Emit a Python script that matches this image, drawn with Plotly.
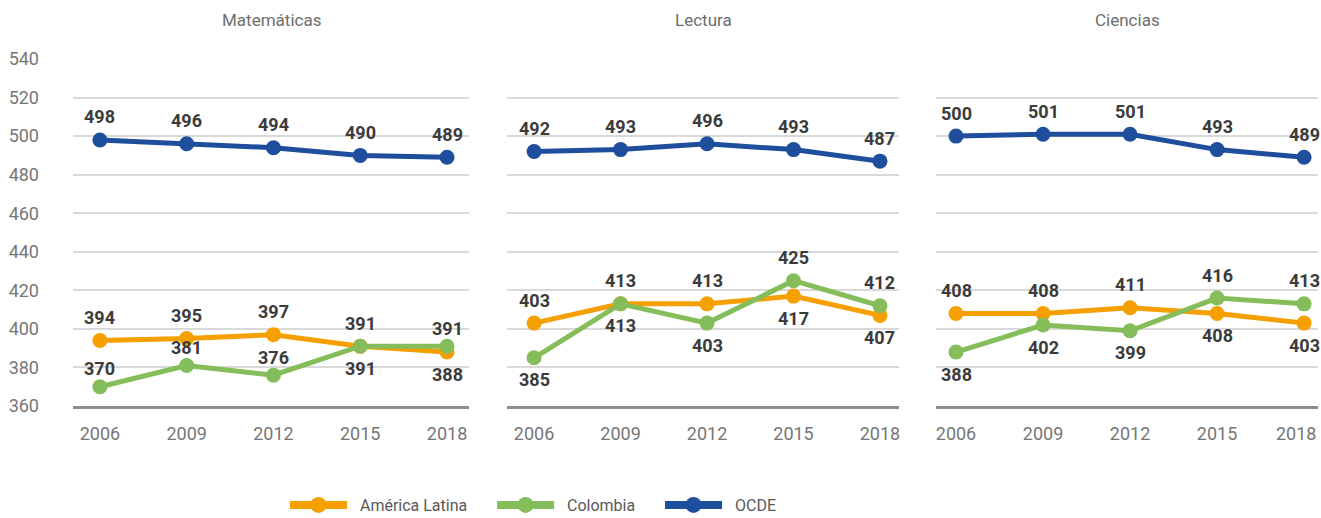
import plotly.graph_objects as go

# PISA average scores by subject and year
years = [2006, 2009, 2012, 2015, 2018]
subjects = ["Matemáticas", "Lectura", "Ciencias"]

mat_latam = [394, 395, 397, 391, 388]
mat_colombia = [370, 381, 376, 391, 391]
mat_ocde = [498, 496, 494, 490, 489]

lec_latam = [403, 413, 413, 417, 407]
lec_colombia = [385, 413, 403, 425, 412]
lec_ocde = [492, 493, 496, 493, 487]

cie_latam = [408, 408, 411, 408, 403]
cie_colombia = [388, 402, 399, 416, 413]
cie_ocde = [500, 501, 501, 493, 489]

series_names = ["América Latina", "Colombia", "OCDE"]
y_ticks = [360, 380, 400, 420, 440, 460, 480, 500, 520, 540]

# label side per point: 1 above the marker, -1 below
side_latam = [[1, 1, 1, 1, -1], [1, 1, 1, -1, -1], [1, 1, 1, -1, -1]]
side_colombia = [[1, 1, 1, -1, 1], [-1, -1, -1, 1, 1], [-1, -1, -1, 1, 1]]
side_ocde = [[1] * 5, [1] * 5, [1] * 5]
# vertical gap (px) between marker and its label, per panel and series
label_gap = [[23, 18, 23], [23, 23, 23], [23, 23, 23]]

colors = {"América Latina": "#F5A000", "Colombia": "#84BD5A", "OCDE": "#1F4E9C"}

panels = [
    (mat_latam, mat_colombia, mat_ocde),
    (lec_latam, lec_colombia, lec_ocde),
    (cie_latam, cie_colombia, cie_ocde),
]

W, H = 1321, 518
x_domains = [(73, 469), (507, 899), (936, 1318)]
x_ranges = [(2005.07, 2018.76), (2005.06, 2018.66), (2005.31, 2018.48)]
y_top_px, y_bot_px = 59, 406

NUM_FONT = "Roboto, DejaVu Sans, sans-serif"
TICK_FONT = dict(family=NUM_FONT, size=18, color="#767676")
NBSP = "\u00a0"

fig = go.Figure()
annotations = []

for i, (latam, col, ocde) in enumerate(panels):
    xa = "x" if i == 0 else f"x{i + 1}"
    ya = "y" if i == 0 else f"y{i + 1}"
    sides = [side_latam[i], side_colombia[i], side_ocde[i]]
    for k, (name, vals, side) in enumerate(zip(series_names, (latam, col, ocde), sides)):
        fig.add_trace(go.Scatter(
            x=years, y=vals, mode="lines+markers", name=name,
            line=dict(color=colors[name], width=5),
            marker=dict(color=colors[name], size=15),
            xaxis=xa, yaxis=ya, showlegend=False, legendgroup=name,
            hoverinfo="skip",
        ))
        for xv, yv, s in zip(years, vals, side):
            gap = label_gap[i][k] if s > 0 else 22
            annotations.append(dict(
                x=xv, y=yv, xref=xa, yref=ya, text=f"<b>{yv}</b>",
                showarrow=False, yshift=gap * s,
                font=dict(family=NUM_FONT, size=18, color="#3B3B3B"),
            ))
    annotations.append(dict(
        x=0.5, y=1 - 20 / H, xref=f"{xa} domain", yref="paper", text=subjects[i],
        showarrow=False, yanchor="middle",
        font=dict(family=NUM_FONT, size=17, color="#6E6E6E"),
    ))

# the last year label of the right panel is nudged left to stay on the page
annotations.append(dict(
    x=years[-1], y=0, xref="x3", yref="y3 domain", text=str(years[-1]),
    showarrow=False, yanchor="top", yshift=-15, xshift=-8,
    font=dict(TICK_FONT),
))

# legend keys with a heavier line; padded names space the entries apart
legend_pad = {"América Latina": 5, "Colombia": 5, "OCDE": 0}
for name in series_names:
    fig.add_trace(go.Scatter(
        x=[None], y=[None], mode="lines+markers",
        name=NBSP * 2 + name + NBSP * legend_pad[name],
        line=dict(color=colors[name], width=8),
        marker=dict(color=colors[name], size=28),
        legendgroup=name, showlegend=True, hoverinfo="skip",
    ))

layout = dict(
    margin=dict(l=0, r=0, t=0, b=0, autoexpand=False),
    plot_bgcolor="white", paper_bgcolor="white",
    annotations=annotations,
    showlegend=True,
    legend=dict(
        orientation="h", x=285 / W, xanchor="left", y=1 - 505 / H, yanchor="middle",
        font=dict(family=NUM_FONT, size=16, color="#595959"),
        itemwidth=57, itemsizing="trace",
        bgcolor="rgba(0,0,0,0)",
    ),
)

for i in range(3):
    sfx = "" if i == 0 else str(i + 1)
    d0, d1 = x_domains[i]
    labels = [str(y) for y in years]
    if i == 2:
        labels[-1] = ""
    layout[f"xaxis{sfx}"] = dict(
        domain=[d0 / W, d1 / W], range=list(x_ranges[i]),
        tickvals=years, ticktext=labels,
        showgrid=False, zeroline=False,
        showline=True, linecolor="#8C8C8C", linewidth=3,
        ticks="", ticklabelstandoff=9, ticklabeloverflow="allow",
        tickfont=TICK_FONT,
        anchor="y" if i == 0 else f"y{i + 1}", fixedrange=True,
    )
    layout[f"yaxis{sfx}"] = dict(
        domain=[1 - y_bot_px / H, 1 - y_top_px / H], range=[360, 540],
        tickvals=y_ticks, showticklabels=(i == 0),
        showgrid=True, gridcolor="#D9D9D9", gridwidth=1.5,
        zeroline=False, showline=False, ticks="",
        ticklabelstandoff=33, ticklabeloverflow="allow",
        tickfont=TICK_FONT,
        anchor="x" if i == 0 else f"x{i + 1}", fixedrange=True,
    )

fig.update_layout(**layout)
fig.write_html("out.html", config={"displayModeBar": False})
